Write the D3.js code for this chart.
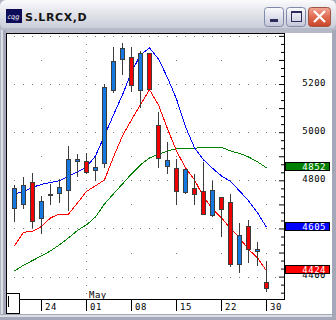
<!DOCTYPE html>
<html>
<head>
<meta charset="utf-8">
<script src="https://cdn.jsdelivr.net/npm/d3@7"></script>
<style>
body { margin: 0; background: #fff; }
svg { display: block; }
.lbl { font-family: "DejaVu Sans Mono", monospace; font-size: 9px; letter-spacing: 0.5px; }
</style>
</head>
<body>
<div id="chart"></div>
<script>

// daily bars, S.LRCX
var dates = ["2006-04-19","2006-04-20","2006-04-21","2006-04-24","2006-04-25","2006-04-26","2006-04-27","2006-04-28",
	"2006-05-01","2006-05-02","2006-05-03","2006-05-04","2006-05-05",
	"2006-05-08","2006-05-09","2006-05-10","2006-05-11","2006-05-12",
	"2006-05-15","2006-05-16","2006-05-17","2006-05-18","2006-05-19",
	"2006-05-22","2006-05-23","2006-05-24","2006-05-25","2006-05-26","2006-05-30"]

var opens  = [4683,4701,4792,4643,4742,4747,4761,4879,4882,4842,4871,5177,5303,5313,5177,5329,5030,4859,4853,4753,4767,4756,4656,4730,4709,4452,4609,4506,4377]
var highs  = [4784,4820,4834,4739,4788,4809,4947,4914,4919,4903,5203,5357,5374,5356,5342,5335,5088,4964,4892,4850,4832,4882,4800,4732,4747,4625,4640,4550,4467]
var lows   = [4629,4683,4608,4580,4703,4712,4677,4820,4831,4802,4857,5167,5243,5172,5104,5178,4855,4832,4701,4748,4701,4661,4652,4570,4446,4421,4462,4449,4342]
var closes = [4767,4781,4629,4714,4742,4773,4889,4888,4834,4856,5187,5296,5349,5194,5329,5181,4892,4885,4757,4846,4745,4662,4759,4680,4454,4574,4514,4514,4352]

// moving averages
var maRed   = [4528,4584,4588,4608,4644,4660,4660,4706,4754,4777,4802,4897,4985,5051,5115,5176,5113,5014,4922,4852,4802,4731,4681,4644,4600,4561,4513,4478,4424]
var maBlue  = [4744,4752,4771,4783,4791,4798,4816,4835,4856,4901,4985,5072,5155,5250,5321,5350,5304,5226,5138,5022,4935,4885,4850,4818,4796,4756,4715,4665,4605]
var maGreen = [4424,4447,4467,4486,4507,4532,4561,4592,4615,4648,4702,4744,4785,4827,4864,4893,4908,4922,4931,4933,4933,4937,4937,4937,4922,4912,4897,4877,4852]

var weekTicks = ["2006-04-24","2006-05-01","2006-05-08","2006-05-15","2006-05-22","2006-05-30"]
// 4600 sits behind the blue box in the original, so it is left out
var priceLabels = [4400,4800,5000,5200]
var lastValues = [{v: 4852, c: "#008000"}, {v: 4605, c: "#0000ff"}, {v: 4424, c: "#ff0000"}]

var W = 336, H = 320
var plot = {left: 7, top: 33, right: 284, bottom: 299}

var svg = d3.select("#chart").append("svg")
	.attr("width", W)
	.attr("height", H)

var defs = svg.append("defs")
function grad(id, stops) {
	var g = defs.append("linearGradient").attr("id", id).attr("x1", 0).attr("y1", 0).attr("x2", 0).attr("y2", 1)
	stops.forEach(s => g.append("stop").attr("offset", s[0]).attr("stop-color", s[1]))
}
grad("title", [[0, "#fbfbfd"], [0.35, "#e8e9ef"], [1, "#c9ccd8"]])
grad("btn", [[0, "#fbfbfe"], [1, "#c3c6d8"]])
grad("close", [[0, "#f4a898"], [0.5, "#e06a50"], [1, "#c84428"]])

// window frame
svg.append("rect").attr("width", W).attr("height", H).attr("fill", "#b2b5c4")
svg.append("rect").attr("width", W).attr("height", 29).attr("rx", 6).attr("fill", "url(#title)")
svg.append("rect").attr("x", 0).attr("y", 28).attr("width", W).attr("height", 5).attr("fill", "#b6b9c7")
svg.append("rect").attr("x", 1).attr("y", 30).attr("width", 4).attr("height", 285).attr("fill", "#dcdee6")
svg.append("rect").attr("x", 3).attr("y", 30).attr("width", 3).attr("height", 285).attr("fill", "#a4a8b8")
svg.append("rect").attr("x", 0).attr("y", 314).attr("width", W).attr("height", 6).attr("fill", "#a4a8b8")
svg.append("rect").attr("x", 0).attr("y", 315).attr("width", W).attr("height", 2).attr("fill", "#dcdee6")
svg.append("rect").attr("x", 332).attr("y", 30).attr("width", 4).attr("height", 290).attr("fill", "#a4a8b8")

// title bar
svg.append("rect").attr("x", 6).attr("y", 9).attr("width", 16).attr("height", 14).attr("fill", "#0c0c58")
svg.append("text").attr("x", 7.5).attr("y", 18.5).attr("fill", "#fff")
	.style("font-family", "DejaVu Sans").style("font-size", "6.5px").style("font-style", "italic")
	.text("cqg")
svg.append("text").attr("x", 25).attr("y", 21)
	.style("font-family", "DejaVu Sans").style("font-size", "11px").style("font-weight", "bold")
	.style("letter-spacing", "0.6px").attr("fill", "#151515")
	.text("S.LRCX,D")

var btns = svg.append("g")
btns.append("rect").attr("x", 264.5).attr("y", 7.5).attr("width", 19).attr("height", 19).attr("rx", 3)
	.attr("fill", "url(#btn)").attr("stroke", "#8088a8")
btns.append("rect").attr("x", 270).attr("y", 19).attr("width", 8).attr("height", 3).attr("fill", "#2c2c5c")
btns.append("rect").attr("x", 286.5).attr("y", 7.5).attr("width", 19).attr("height", 19).attr("rx", 3)
	.attr("fill", "url(#btn)").attr("stroke", "#8088a8")
btns.append("rect").attr("x", 291.5).attr("y", 11.5).attr("width", 10).attr("height", 10)
	.attr("fill", "none").attr("stroke", "#2c2c5c")
btns.append("rect").attr("x", 291).attr("y", 11).attr("width", 11).attr("height", 2).attr("fill", "#2c2c5c")
btns.append("rect").attr("x", 308.5).attr("y", 7.5).attr("width", 22).attr("height", 19).attr("rx", 3)
	.attr("fill", "url(#close)").attr("stroke", "#9c5444")
btns.append("path").attr("d", "M314,11L325,22M325,11L314,22")
	.attr("stroke", "#fff").attr("stroke-width", 2.2)

// chart panel
svg.append("rect").attr("x", 6).attr("y", 33).attr("width", 326).attr("height", 281).attr("fill", "#fff")

var x = d3.scaleBand().domain(dates).range([10, 10 + 9 * dates.length])
var cx = d => x(d) + 4.5
var y = d3.scaleLinear().domain([4307, 5412]).range([plot.bottom, plot.top])
var py = v => Math.round(y(v)) + 0.5

var grid = svg.append("g").attr("fill", "#7a7a7a")

// dense dotted rows every 200
var dotXs = d3.range(cx(dates[0]) - 0.5, plot.right - 1, 9)
;[4400, 4600, 4800, 5000, 5200, 5400].forEach(function(v) {
	grid.selectAll(null).data(dotXs).enter().append("rect")
		.attr("x", d => d).attr("y", Math.round(y(v)))
		.attr("width", 1).attr("height", 1)
})
// sparse rows at the odd hundreds, only at week ticks
;[4500, 4700, 4900, 5100, 5300].forEach(function(v) {
	grid.selectAll(null).data(weekTicks).enter().append("rect")
		.attr("x", d => cx(d) - 0.5).attr("y", Math.round(y(v)))
		.attr("width", 1).attr("height", 1)
})

var minorTicks = d3.range(-2, 31).map(k => 4400 + k * 100 / 3).filter(v => y(v) > plot.top + 1 && y(v) < plot.bottom - 2)

// month boundary
grid.selectAll(null).data(minorTicks).enter().append("rect")
	.attr("x", cx("2006-05-01") - 0.5).attr("y", d => Math.round(y(d)))
	.attr("width", 1).attr("height", 1)

// moving averages (drawn under the bars)
var line = d3.line()
	.x((d, i) => cx(dates[i]))
	.y(d => y(d))

;[[maGreen, "#008000"], [maBlue, "#0000ff"], [maRed, "#ff0000"]].forEach(function(s) {
	svg.append("path")
		.datum(s[0])
		.attr("d", line)
		.attr("fill", "none")
		.attr("stroke", s[1])
		.attr("stroke-width", 1)
		.attr("shape-rendering", "crispEdges")
})

// candles
var bars = svg.append("g").attr("shape-rendering", "crispEdges")

bars.selectAll(".wick")
	.data(dates)
	.enter()
	.append("line")
	.attr("class", "wick")
	.attr("x1", d => cx(d))
	.attr("x2", d => cx(d))
	.attr("y1", (d, i) => py(highs[i]))
	.attr("y2", (d, i) => py(lows[i]))
	.attr("stroke", "#3c3c3c")

bars.selectAll(".body")
	.data(dates)
	.enter()
	.append("rect")
	.attr("class", "body")
	.attr("x", d => cx(d) - 2)
	.attr("y", (d, i) => py(Math.max(opens[i], closes[i])))
	.attr("width", 4)
	.attr("height", (d, i) => Math.max(1, py(Math.min(opens[i], closes[i])) - py(Math.max(opens[i], closes[i]))))
	.attr("fill", (d, i) => closes[i] >= opens[i] ? "#1478e0" : "#f00000")
	.attr("stroke", "#3c3c3c")

// plot frame
var frame = svg.append("g").attr("stroke", "#000").attr("shape-rendering", "crispEdges")
frame.append("line").attr("x1", 6.5).attr("x2", 6.5).attr("y1", plot.top).attr("y2", 314)
frame.append("line").attr("x1", 6).attr("x2", plot.right + 1).attr("y1", plot.top + 0.5).attr("y2", plot.top + 0.5)
frame.append("line").attr("x1", plot.right + 0.5).attr("x2", plot.right + 0.5).attr("y1", plot.top).attr("y2", plot.bottom + 1)
frame.append("line").attr("x1", 6).attr("x2", plot.right + 1).attr("y1", plot.bottom + 0.5).attr("y2", plot.bottom + 0.5)

// right edge ticks
var yTicks = svg.append("g")
	.attr("transform", `translate(${plot.right},0)`)
	.call(d3.axisLeft(y).tickValues(minorTicks).tickSize(3).tickFormat(""))
yTicks.select(".domain").remove()
yTicks.selectAll(".tick line")
	.attr("x2", d => Math.abs(d % 100) < 1 ? -5 : -3)
	.attr("stroke", "#000")

// price labels
var yLabels = svg.append("g")
	.attr("transform", "translate(326,0)")
	.call(d3.axisLeft(y).tickValues(priceLabels).tickSize(0).tickPadding(0).tickFormat(d3.format("d")))
yLabels.select(".domain").remove()
yLabels.attr("font-family", null).attr("font-size", null)
yLabels.selectAll("text")
	.attr("class", "lbl")
	.attr("dy", null)
	.attr("y", 1)
	.attr("fill", "#000")

// last value boxes
var boxes = svg.selectAll(".lastBox")
	.data(lastValues)
	.enter()
	.append("g")
	.attr("class", "lastBox")
	.attr("transform", d => `translate(0,${Math.round(y(d.v) - 5.5)})`)
boxes.append("rect")
	.attr("x", 285.5).attr("y", 0.5)
	.attr("width", 44).attr("height", 8)
	.attr("fill", d => d.c)
	.attr("stroke", "#000")
	.attr("shape-rendering", "crispEdges")
boxes.append("text")
	.attr("class", "lbl")
	.attr("x", 326).attr("y", 7.6)
	.attr("text-anchor", "end")
	.attr("fill", "#fff")
	.text(d => d.v)

// date axis
var xAxis = svg.append("g")
	.attr("transform", `translate(0,${plot.bottom})`)
	.call(d3.axisBottom(x).tickValues(weekTicks).tickSize(12).tickFormat(d => d.slice(8)))
xAxis.attr("font-family", null).attr("font-size", null)
xAxis.select(".domain").remove()
xAxis.selectAll(".tick line").attr("stroke", "#000")
xAxis.selectAll("text")
	.attr("class", "lbl")
	.attr("x", 3.5)
	.attr("y", 10.5)
	.attr("dy", null)
	.attr("text-anchor", "start")
	.attr("fill", "#000")

svg.append("text")
	.attr("class", "lbl")
	.attr("x", cx("2006-05-01") + 2.5)
	.attr("y", 297.5)
	.attr("fill", "#000")
	.text("May")

// little box bottom-left
svg.append("rect").attr("x", 6.5).attr("y", 293.5).attr("width", 13).attr("height", 20)
	.attr("fill", "#fff").attr("stroke", "#000").attr("shape-rendering", "crispEdges")
svg.append("line").attr("x1", 8.5).attr("x2", 8.5).attr("y1", 296).attr("y2", 307)
	.attr("stroke", "#000")

</script>
</body>
</html>
